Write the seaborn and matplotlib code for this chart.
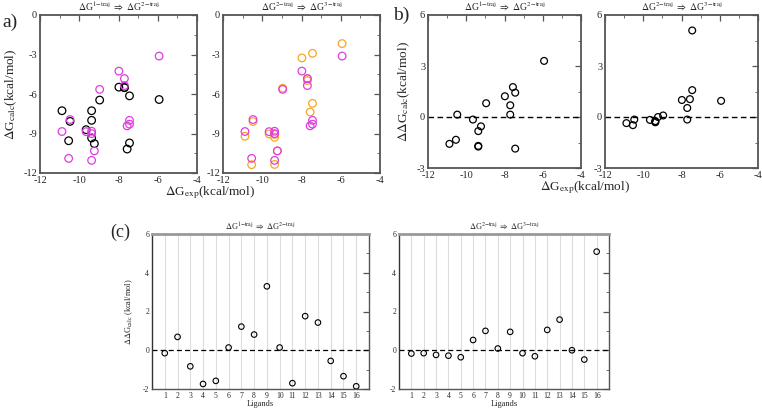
import matplotlib
matplotlib.use("Agg")
import matplotlib.pyplot as plt
from matplotlib.ticker import MultipleLocator
import seaborn as sns
import pandas as pd

ligands = list(range(1, 17))
dg_exp = [-9.65, -7.70, -9.37, -9.37, -10.88, -7.70, -7.98, -8.96,
          -5.93, -10.47, -9.37, -7.56, -7.44, -9.23, -10.54, -7.44]
dg_1traj = [-8.71, -5.52, -8.00, -7.27, -7.27, -5.50, -5.48, -6.46,
            -6.42, -8.08, -9.34, -10.18, -9.72, -9.77, -9.55, -6.14]
dg_2traj = [-8.86, -4.83, -8.83, -9.01, -8.85, -5.36, -4.26, -5.65,
            -3.12, -7.94, -11.04, -8.42, -8.29, -10.32, -10.89, -8.00]
dg_3traj = [-9.03, -4.98, -9.07, -9.29, -9.21, -4.83, -3.26, -5.56,
            -2.17, -8.09, -11.35, -7.37, -6.71, -10.32, -11.37, -2.91]
ddg_12 = [-0.15, 0.69, -0.83, -1.74, -1.58, 0.14, 1.22, 0.81,
          3.30, 0.14, -1.70, 1.76, 1.43, -0.55, -1.34, -1.86]
ddg_23 = [-0.17, -0.15, -0.24, -0.28, -0.36, 0.53, 1.00, 0.09,
          0.95, -0.15, -0.31, 1.05, 1.58, 0.00, -0.48, 5.09]

df = pd.DataFrame({"lig": ligands, "exp": dg_exp, "g1": dg_1traj, "g2": dg_2traj,
                   "g3": dg_3traj, "d12": ddg_12, "d23": ddg_23})

sns.set_theme(style="white")
plt.rcParams["font.family"] = ["Liberation Serif", "DejaVu Serif"]
plt.rcParams["mathtext.fontset"] = "stix"
plt.rcParams["axes.unicode_minus"] = False

W, H = 762, 409
fig = plt.figure(figsize=(W / 100, H / 100), dpi=100)

def add_ax(l, r, t, b):
    ax = fig.add_axes([l / W, 1 - b / H, (r - l) / W, (b - t) / H])
    ax.set_facecolor("white")
    return ax

FRAME = "#555555"
MAG = "#e03ce0"
ORG = "#f5a623"

def style(ax, fs=7.5, lw=1.3):
    for s in ax.spines.values():
        s.set_color(FRAME)
        s.set_linewidth(lw)
    ax.tick_params(which="both", direction="in", top=True, right=True,
                   color=FRAME, labelsize=fs, pad=2)
    ax.tick_params(which="major", length=4, width=0.9)
    ax.tick_params(which="minor", length=2, width=0.6)
    ax.set_xlabel("")
    ax.set_ylabel("")

def title(ax, a, b, fs=7):
    ax.set_title(r"$\Delta$G$^{%s\mathrm{-traj}}$ $\Rightarrow$ $\Delta$G$^{%s\mathrm{-traj}}$" % (a, b),
                 fontsize=fs, pad=3)

def pts(ax, x, y, color, s, lw=0.9):
    n0 = len(ax.collections)
    sns.scatterplot(data=df, x=x, y=y, ax=ax, marker="o", s=s,
                    color=color, linewidth=lw, zorder=3)
    for coll in ax.collections[n0:]:
        coll.set_facecolor("none")
        coll.set_edgecolor(color)
        coll.set_linewidth(lw)

# ---- panel a
a1 = add_ax(40, 197, 15, 173)
a2 = add_ax(223, 380, 15, 173)
pts(a1, "exp", "g1", "black", 30)
pts(a1, "exp", "g2", MAG, 30)
pts(a2, "exp", "g3", ORG, 30)
pts(a2, "exp", "g2", MAG, 30)
title(a1, "1", "2")
title(a2, "2", "3")
for ax in (a1, a2):
    ax.set_xlim(-12, -4)
    ax.set_ylim(-12, 0)
    ax.xaxis.set_major_locator(MultipleLocator(2))
    ax.xaxis.set_minor_locator(MultipleLocator(1))
    ax.yaxis.set_major_locator(MultipleLocator(3))
    ax.yaxis.set_minor_locator(MultipleLocator(1.5))
    style(ax)
a1.set_ylabel(r"$\Delta$G$_{\mathrm{calc}}$(kcal/mol)", fontsize=9.5, labelpad=3)
fig.text(210 / W, 1 - 193 / H, r"$\Delta$G$_{\mathrm{exp}}$(kcal/mol)", fontsize=9.5,
         ha="center", va="center")
fig.text(2 / W, 1 - 22 / H, "a)", fontsize=14, ha="left", va="center")

# ---- panel b
b1 = add_ax(428, 581, 15, 168)
b2 = add_ax(605, 758, 15, 168)
pts(b1, "exp", "d12", "black", 24)
pts(b2, "exp", "d23", "black", 24)
title(b1, "1", "2")
title(b2, "2", "3")
for ax in (b1, b2):
    ax.axhline(0, color="black", ls="--", lw=1.0, dashes=(4, 2.5), zorder=2)
    ax.set_xlim(-12, -4)
    ax.set_ylim(-3, 6)
    ax.xaxis.set_major_locator(MultipleLocator(2))
    ax.xaxis.set_minor_locator(MultipleLocator(1))
    ax.yaxis.set_major_locator(MultipleLocator(3))
    ax.yaxis.set_minor_locator(MultipleLocator(1.5))
    style(ax)
b1.set_ylabel(r"$\Delta\Delta$G$_{\mathrm{calc}}$(kcal/mol)", fontsize=9.5, labelpad=3)
fig.text(585 / W, 1 - 188 / H, r"$\Delta$G$_{\mathrm{exp}}$(kcal/mol)", fontsize=9.5,
         ha="center", va="center")
fig.text(393 / W, 1 - 15 / H, "b)", fontsize=14, ha="left", va="center")

# ---- panel c
c1 = add_ax(152, 369, 234, 389)
c2 = add_ax(399, 609, 234, 389)
for ax, col, a, b in ((c1, "d12", "1", "2"), (c2, "d23", "2", "3")):
    for xv in ligands:
        ax.axvline(xv, color="#dddddd", lw=0.8, zorder=1)
    ax.axhline(0, color="black", ls="--", lw=0.9, dashes=(4, 2.5), zorder=2)
    pts(ax, "lig", col, "black", 16, lw=0.8)
    ax.set_xlim(0, 17)
    ax.set_ylim(-2, 6)
    ax.set_xticks(ligands)
    ax.set_xticklabels([str(v) for v in ligands])
    ax.yaxis.set_major_locator(MultipleLocator(2))
    ax.yaxis.set_minor_locator(MultipleLocator(1))
    style(ax, fs=5.5, lw=1.0)
    ax.tick_params(axis="x", which="both", length=0, pad=2)
    ax.spines["top"].set_color("#999999")
    ax.spines["top"].set_linewidth(2.0)
    ax.spines["left"].set_color("#333333")
    ax.set_title(r"$\Delta$G$^{%s\mathrm{-traj}}$ $\Rightarrow$ $\Delta$G$^{%s\mathrm{-traj}}$" % (a, b),
                 fontsize=6, pad=3)
    ax.set_xlabel("Ligands", fontsize=6, labelpad=0)
c1.set_ylabel(r"$\Delta\Delta$G$_{\mathrm{calc}}$ (kcal/mol)", fontsize=6, labelpad=6)
fig.text(110 / W, 1 - 232 / H, "(c)", fontsize=13, ha="left", va="center")

fig.savefig("out.png", dpi=100)
